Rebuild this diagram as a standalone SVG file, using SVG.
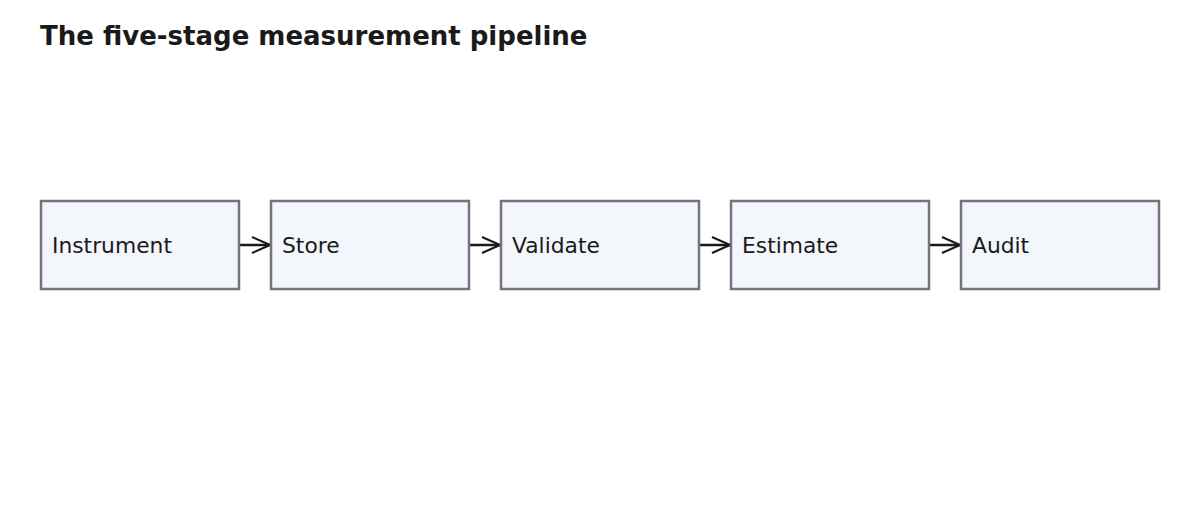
<svg xmlns="http://www.w3.org/2000/svg" width="1200" height="520" viewBox="0 0 1200 520">
<style>
.title{font-family:"DejaVu Sans",sans-serif;font-weight:bold;font-size:26px;fill:#1a1a1a}
.box{fill:#f3f6fa;stroke:#74747f;stroke-width:2.5}
.lbl{font-family:"DejaVu Sans",sans-serif;font-size:21.8px;fill:#1a1a1a}
.edge{stroke:#1a1a1a;stroke-width:2.5;fill:none}
</style>
<defs>
<marker id="arr" viewBox="0 0 20 20" refX="19" refY="10" markerWidth="20" markerHeight="20" markerUnits="userSpaceOnUse" orient="auto">
<path d="M1,2 L19,10 L1,18" fill="none" stroke="#1a1a1a" stroke-width="2"/>
</marker>
</defs>
<rect width="1200" height="520" fill="#ffffff"/>
<text class="title" x="40" y="45">The five-stage measurement pipeline</text>
<g id="connectors">
<line class="edge" x1="240" y1="245" x2="270" y2="245" marker-end="url(#arr)"/>
<line class="edge" x1="470" y1="245" x2="500" y2="245" marker-end="url(#arr)"/>
<line class="edge" x1="700" y1="245" x2="730" y2="245" marker-end="url(#arr)"/>
<line class="edge" x1="930" y1="245" x2="960" y2="245" marker-end="url(#arr)"/>
</g>
<g id="instrument"><rect class="box" x="41" y="201" width="198" height="88"/><text class="lbl" x="52" y="253">Instrument</text></g>
<g id="store"><rect class="box" x="271" y="201" width="198" height="88"/><text class="lbl" x="282" y="253">Store</text></g>
<g id="validate"><rect class="box" x="501" y="201" width="198" height="88"/><text class="lbl" x="512" y="253">Validate</text></g>
<g id="estimate"><rect class="box" x="731" y="201" width="198" height="88"/><text class="lbl" x="742" y="253">Estimate</text></g>
<g id="audit"><rect class="box" x="961" y="201" width="198" height="88"/><text class="lbl" x="972" y="253">Audit</text></g>
</svg>
